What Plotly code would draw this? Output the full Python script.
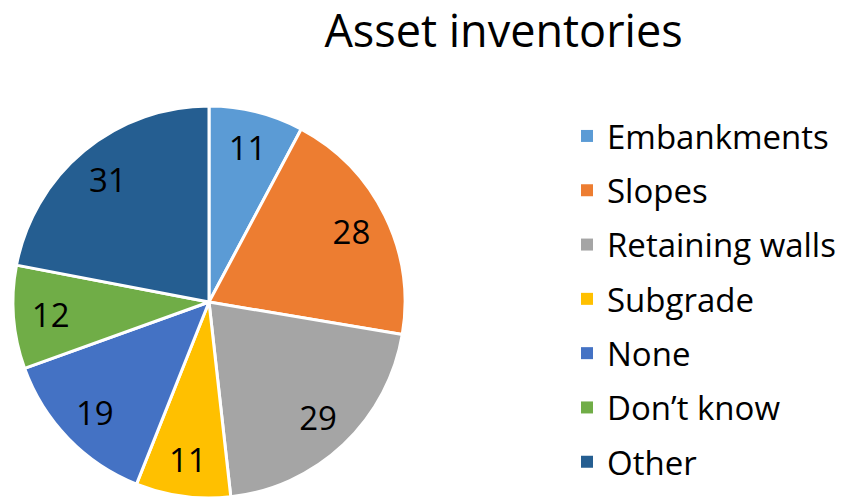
import plotly.graph_objects as go

categories = ["Embankments", "Slopes", "Retaining walls", "Subgrade", "None", "Don\u2019t know", "Other"]
values = [11, 28, 29, 11, 19, 12, 31]
colors = ["#5B9BD5", "#ED7D31", "#A5A5A5", "#FFC000", "#4472C4", "#70AD47", "#255E91"]
title_text = "Asset inventories"

W, H = 854, 499
cx, cy, r = 209, 302, 196
FONT = "Open Sans"

dom = dict(x=[(cx - r) / W, (cx + r) / W], y=[(H - cy - r) / H, (H - cy + r) / H])

fig = go.Figure()
# filled pie with white separators
fig.add_trace(go.Pie(
    labels=categories, values=values, sort=False, direction="clockwise", rotation=0,
    marker=dict(colors=colors, line=dict(color="white", width=3)),
    textinfo="none", showlegend=False, hoverinfo="label+value", domain=dom,
))
# transparent ring carrying the value labels (places them further out, like Excel)
fig.add_trace(go.Pie(
    labels=categories, values=values, sort=False, direction="clockwise", rotation=0,
    hole=0.62,
    marker=dict(colors=["rgba(0,0,0,0)"] * len(values), line=dict(width=0)),
    textinfo="value", textposition="inside", insidetextorientation="horizontal",
    textfont=dict(family=FONT, size=33, color="black"),
    showlegend=False, hoverinfo="skip", domain=dom,
))

for cat, col in zip(categories, colors):
    fig.add_trace(go.Scatter(
        x=[None], y=[None], mode="markers", name=cat, legendgroup=cat,
        marker=dict(symbol="square", size=16, color=col),
    ))

fig.update_layout(
    width=W, height=H, margin=dict(l=0, r=0, t=0, b=0),
    paper_bgcolor="white", plot_bgcolor="white",
    title=dict(text=title_text, x=503.5 / W, xanchor="center",
               y=1 - 31 / H, yanchor="middle",
               font=dict(family=FONT, size=45, color="black")),
    xaxis=dict(visible=False), yaxis=dict(visible=False),
    legend=dict(x=567 / W, xanchor="left", y=1 - 108 / H, yanchor="top",
                font=dict(family=FONT, size=33, color="black"),
                tracegroupgap=8.4, itemsizing="constant", bgcolor="rgba(0,0,0,0)"),
)

fig.write_html("out.html", config={"displayModeBar": False},
               post_script="document.body.style.margin='0';")
